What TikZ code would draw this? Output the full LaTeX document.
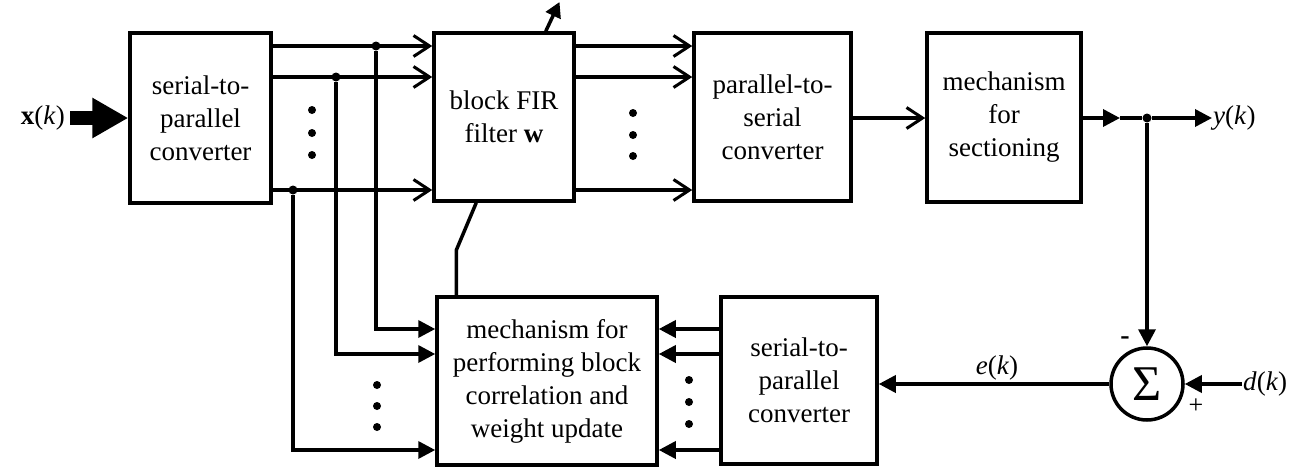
\documentclass[tikz,border=0pt]{standalone}
\usepackage{fontspec}
\setmainfont{Liberation Serif}
\newfontfamily\diagfont{Liberation Serif}
\usetikzlibrary{arrows.meta}

\tikzset{
  lbl/.style={font=\diagfont\fontsize{27}{33}\selectfont, align=center},
  blk/.style={draw, line width=3.5pt, fill=white, inner sep=0pt, lbl},
  tag/.style={lbl, inner sep=1pt},
  wire/.style={line width=3.5pt},
  openarr/.style={wire, -{Straight Barb[length=16pt,width=21pt,line width=3pt]}},
  solidarr/.style={wire, -{Triangle[length=17pt,width=17pt]}},
  ellip/.style={circle, fill, inner sep=0pt, minimum size=8pt},
  junc/.style={circle, fill, inner sep=0pt, minimum size=9pt},
}

\begin{document}
\begin{tikzpicture}[x=1pt,y=-1pt]
\useasboundingbox (0,0) rectangle (1304,469);

% row levels
\coordinate (r1) at (0,46);
\coordinate (r2) at (0,77);
\coordinate (r3) at (0,190);
\coordinate (rm) at (0,118);
\coordinate (q1) at (0,329);
\coordinate (q2) at (0,354);
\coordinate (q3) at (0,450);
\coordinate (re) at (0,384);

% blocks
\node[blk, minimum width=141pt, minimum height=170pt] (sp1) at (200.5,118) {serial-to-\\parallel\\converter};
\node[blk, minimum width=140pt, minimum height=168pt] (fir) at (504,117) {block FIR\\filter \textbf{w}};
\node[blk, minimum width=157pt, minimum height=168pt] (ps) at (772.5,117) {parallel-to-\\serial\\converter};
\node[blk, minimum width=154pt, minimum height=169pt] (sec) at (1004,117.5) {mechanism\\for\\sectioning};
\node[blk, minimum width=220pt, minimum height=168pt] (mech) at (547,381) {mechanism for\\performing block\\correlation and\\weight update};
\node[blk, minimum width=156pt, minimum height=167pt] (sp2) at (799,380.5) {serial-to-\\parallel\\converter};
\node[draw, circle, line width=3.5pt, fill=white, inner sep=0pt, minimum size=72pt, font=\diagfont] (sum) at (1147,384) {\fontsize{50}{50}\selectfont Σ};

% input
\node[tag, anchor=east] (xk) at (66,118) {\textbf{x}(\textit{k})};
\coordinate (xin) at (70,118);
\draw[line width=14pt, -{Triangle[length=36pt,width=38pt]}] (xin) -- (sp1.west);

% parallel lanes into the filter
\node[junc] (b1) at (376,46) {};
\node[junc] (b2) at (336,77) {};
\node[junc] (b3) at (293,190) {};
\draw[openarr] (sp1.east |- r1) -- (fir.west |- r1);
\draw[openarr] (sp1.east |- r2) -- (fir.west |- r2);
\draw[openarr] (sp1.east |- r3) -- (fir.west |- r3);
\foreach \n/\yy in {a1/110, a2/133, a3/155} \node[ellip] (\n) at (312,\yy) {};

% taps down to the correlation block
\draw[solidarr] (b1) |- (mech.west |- q1);
\draw[solidarr] (b2) |- (mech.west |- q2);
\draw[solidarr] (b3) |- (mech.west |- q3);
\foreach \n/\yy in {c1/385, c2/406, c3/427} \node[ellip] (\n) at (377,\yy) {};

% filter outputs
\draw[openarr] (fir.east |- r1) -- (ps.west |- r1);
\draw[openarr] (fir.east |- r2) -- (ps.west |- r2);
\draw[openarr] (fir.east |- r3) -- (ps.west |- r3);
\foreach \n/\yy in {f1/113, f2/135, f3/156} \node[ellip] (\n) at (633,\yy) {};

% weight update path through the filter
\draw[wire] ([xshift=21pt]mech.north west) -- ++(0,-45) -- ([xshift=44pt]fir.south west);
\coordinate (wtip) at (559.5,2);
\draw[wire, -{Triangle[length=15pt,width=16pt]}] ([xshift=113.5pt]fir.north west) -- (wtip);

% serial output chain
\draw[openarr] (ps.east |- rm) -- (sec.west |- rm);
\coordinate (mid) at (1120,118);
\node[junc] (j) at (1147,118) {};
\draw[solidarr] (sec.east |- rm) -- (mid);
\draw[wire] (mid) -- (j);
\node[tag, anchor=west] (yk) at (1212,118) {\textit{y}(\textit{k})};
\draw[solidarr] (j) -- (yk.west);

% error computation
\draw[solidarr] (j) -- (sum.north);
\node[tag, anchor=west] (dk) at (1242,384) {\textit{d}(\textit{k})};
\draw[solidarr] (dk.west) -- (sum.east);
\node[font=\diagfont\fontsize{28}{28}\selectfont\bfseries, inner sep=0pt] (minus) at (1125,341) {-};
\node[font=\diagfont\fontsize{26}{26}\selectfont, inner sep=0pt] (plus) at (1196,406) {+};
\draw[solidarr] (sum.west) -- (sp2.east |- re);
\node[tag] (ek) at (997,368) {\textit{e}(\textit{k})};

% error lanes into the correlation block
\draw[solidarr] (sp2.west |- q1) -- (mech.east |- q1);
\draw[solidarr] (sp2.west |- q2) -- (mech.east |- q2);
\draw[solidarr] (sp2.west |- q3) -- (mech.east |- q3);
\foreach \n/\yy in {g1/380, g2/402, g3/424} \node[ellip] (\n) at (689,\yy) {};
\end{tikzpicture}
\end{document}
